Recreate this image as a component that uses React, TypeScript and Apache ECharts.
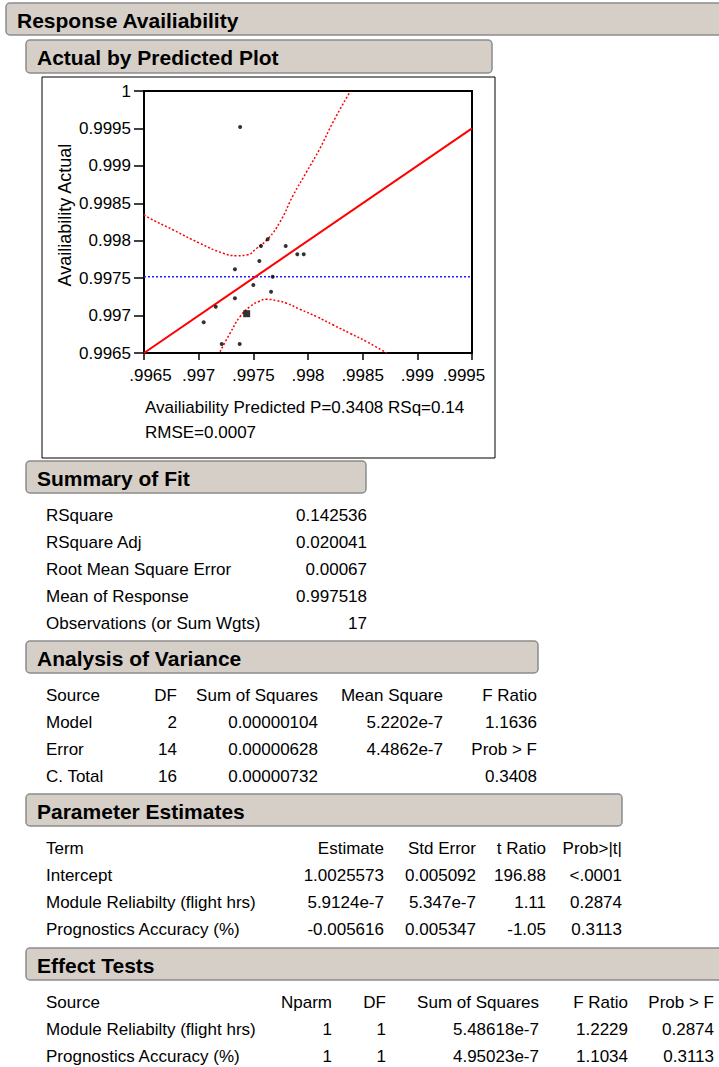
import React, { useEffect, useRef } from "react";
import * as echarts from "echarts";

// ---------- data ----------
const predicted = [0.997379, 0.997631, 0.99757, 0.997796, 0.997902, 0.997961, 0.997555, 0.997332, 0.997677, 0.9975, 0.997662, 0.997332, 0.997156, 0.997439, 0.997046, 0.997211, 0.997375];
const actual = [0.999518, 0.998019, 0.997929, 0.997929, 0.997819, 0.997819, 0.997729, 0.997618, 0.997519, 0.997408, 0.997319, 0.997231, 0.997119, 0.997025, 0.99691, 0.99662, 0.99662];
const bigPointIndex = 13;
const meanResponse = 0.997518;
const fitLineX = [0.9965, 0.9995];
const fitLineY = [0.9965, 0.9995];
const upperX = [0.9965, 0.996525, 0.996768, 0.997012, 0.997225, 0.997348, 0.997439, 0.997531, 0.997637, 0.997744, 0.997866, 0.997988, 0.99811, 0.998231, 0.998384];
const upperY = [0.99835, 0.998321, 0.998143, 0.997965, 0.997832, 0.9978, 0.997809, 0.997899, 0.998032, 0.99825, 0.998611, 0.998922, 0.999235, 0.99959, 0.99999];
const lowerX = [0.997195, 0.997287, 0.997378, 0.997469, 0.997545, 0.997622, 0.997714, 0.997805, 0.997927, 0.99808, 0.998231, 0.998384, 0.998537, 0.99872];
const lowerY = [0.996517, 0.996763, 0.996985, 0.997119, 0.997185, 0.997217, 0.997199, 0.997164, 0.997084, 0.996985, 0.996874, 0.996763, 0.996651, 0.9965];
const axisMin = 0.9965;
const yAxisMax = 1;
const xAxisMax = 0.9995;
const tickStep = 0.0005;

const reportTitle = "Response Availiability";
const plotTitle = "Actual by Predicted Plot";
const yAxisTitle = "Availiability Actual";
const xAxisTitleLines = ["Availiability Predicted P=0.3408 RSq=0.14", "RMSE=0.0007"];

const summaryTitle = "Summary of Fit";
const summaryLabels = ["RSquare", "RSquare Adj", "Root Mean Square Error", "Mean of Response", "Observations (or Sum Wgts)"];
const summaryValues = ["0.142536", "0.020041", "0.00067", "0.997518", "17"];

const anovaTitle = "Analysis of Variance";
const anovaHeaders = ["Source", "DF", "Sum of Squares", "Mean Square", "F Ratio"];
const anovaRows = [
  ["Model", "2", "0.00000104", "5.2202e-7", "1.1636"],
  ["Error", "14", "0.00000628", "4.4862e-7", "Prob > F"],
  ["C. Total", "16", "0.00000732", "", "0.3408"],
];

const paramTitle = "Parameter Estimates";
const paramHeaders = ["Term", "Estimate", "Std Error", "t Ratio", "Prob>|t|"];
const paramRows = [
  ["Intercept", "1.0025573", "0.005092", "196.88", "<.0001"],
  ["Module Reliabilty (flight hrs)", "5.9124e-7", "5.347e-7", "1.11", "0.2874"],
  ["Prognostics Accuracy (%)", "-0.005616", "0.005347", "-1.05", "0.3113"],
];

const effectTitle = "Effect Tests";
const effectHeaders = ["Source", "Nparm", "DF", "Sum of Squares", "F Ratio", "Prob > F"];
const effectRows = [
  ["Module Reliabilty (flight hrs)", "1", "1", "5.48618e-7", "1.2229", "0.2874"],
  ["Prognostics Accuracy (%)", "1", "1", "4.95023e-7", "1.1034", "0.3113"],
];

// ---------- layout ----------
const FONT = '"Liberation Sans", Arial, sans-serif';
const HEAD_FILL = "#d5cfc8";
const HEAD_STROKE = "#8c8c8c";

function header(x: number, y: number, w: number, h: number, text: string, size = 21): any[] {
  return [
    {
      type: "rect",
      shape: { x, y, width: w, height: h, r: 4 },
      style: { fill: HEAD_FILL, stroke: HEAD_STROKE, lineWidth: 1.5 },
    },
    {
      type: "text",
      x: x + 11,
      y: y + h / 2 + 1,
      style: { text, font: `bold ${size}px ${FONT}`, fill: "#000", textAlign: "left", textVerticalAlign: "middle" },
    },
  ];
}

function txt(x: number, y: number, text: string, align = "left"): any {
  return {
    type: "text",
    x,
    y,
    style: { text, font: `17px ${FONT}`, fill: "#000", textAlign: align, textVerticalAlign: "middle" },
  };
}

function table(headers: string[], rows: string[][], xs: number[], y0: number, dy: number): any[] {
  const out: any[] = [];
  const all = [headers, ...rows];
  all.forEach((r, ri) => {
    r.forEach((c, ci) => {
      if (!c) return;
      out.push(txt(xs[ci], y0 + ri * dy, c, ci === 0 ? "left" : "right"));
    });
  });
  return out;
}

export default function App() {
  const ref = useRef<HTMLDivElement>(null);
  useEffect(() => {
    if (!ref.current) return;
    const chart = echarts.init(ref.current, undefined, { renderer: "svg" });
    const pts = predicted.map((x, i) =>
      i === bigPointIndex
        ? { value: [x, actual[i]], symbol: "rect", symbolSize: 7 }
        : { value: [x, actual[i]] }
    );
    const fmtY = (v: number) => String(+v.toFixed(4));
    const fmtX = (v: number) => {
      const s = String(+v.toFixed(4)).replace(/^0/, "");
      if (Math.abs(v - axisMin) < 1e-9) return `{first|${s}}`;
      if (Math.abs(v - xAxisMax) < 1e-9) return `{last|${s}}`;
      return s;
    };
    const richBase = { fontSize: 17, fontFamily: FONT, color: "#000" };

    const graphics: any[] = [
      ...header(6, 3, 730, 32, reportTitle),
      ...header(26, 40, 466, 33, plotTitle),
      {
        type: "rect",
        shape: { x: 42, y: 77, width: 453, height: 381 },
        style: { fill: "none", stroke: "#000", lineWidth: 1 },
      },
      {
        type: "text",
        x: 65,
        y: 215,
        rotation: Math.PI / 2,
        style: { text: yAxisTitle, font: `18px ${FONT}`, fill: "#000", textAlign: "center", textVerticalAlign: "middle" },
      },
      txt(145, 407, xAxisTitleLines[0]),
      txt(145, 432, xAxisTitleLines[1]),
      ...header(26, 461, 340, 32, summaryTitle),
      ...summaryLabels.map((l, i) => txt(46, 515 + i * 27, l)),
      ...summaryValues.map((v, i) => txt(367, 515 + i * 27, v, "right")),
      ...header(26, 641, 512, 32, anovaTitle),
      ...table(anovaHeaders, anovaRows, [46, 177, 318, 443, 537], 695, 27),
      ...header(26, 794, 596, 32, paramTitle),
      ...table(paramHeaders, paramRows, [46, 384, 476, 546, 622], 848, 27),
      ...header(26, 948, 710, 32, effectTitle),
      ...table(effectHeaders, effectRows, [46, 332, 386, 539, 628, 714], 1002, 27),
    ];

    chart.setOption({
      animation: false,
      grid: {
        left: 144,
        top: 91,
        width: 328,
        height: 262,
        show: true,
        borderColor: "#000",
        borderWidth: 2,
        backgroundColor: "transparent",
      },
      xAxis: {
        type: "value",
        min: axisMin,
        max: xAxisMax,
        interval: tickStep,
        splitLine: { show: false },
        axisLine: { show: true, onZero: false, lineStyle: { color: "#000", width: 2 } },
        axisTick: { show: true, length: 7, lineStyle: { color: "#000", width: 1.5 } },
        axisLabel: {
          formatter: fmtX,
          fontSize: 17,
          fontFamily: FONT,
          color: "#000",
          margin: 14,
          rich: {
            first: { ...richBase, padding: [0, 0, 0, 13] },
            last: { ...richBase, padding: [0, 16, 0, 0] },
          },
        },
      },
      yAxis: {
        type: "value",
        min: axisMin,
        max: yAxisMax,
        interval: tickStep,
        splitLine: { show: false },
        axisLine: { show: true, onZero: false, lineStyle: { color: "#000", width: 2 } },
        axisTick: { show: true, length: 10, lineStyle: { color: "#000", width: 1.5 } },
        axisLabel: { formatter: fmtY, fontSize: 17, fontFamily: FONT, color: "#000", margin: 13 },
      },
      series: [
        {
          type: "line",
          data: upperX.map((x, i) => [x, upperY[i]]),
          smooth: true,
          showSymbol: false,
          clip: true,
          lineStyle: { color: "#ff0000", width: 1.5, type: [2, 2] },
          z: 2,
        },
        {
          type: "line",
          data: lowerX.map((x, i) => [x, lowerY[i]]),
          smooth: true,
          showSymbol: false,
          clip: true,
          lineStyle: { color: "#ff0000", width: 1.5, type: [2, 2] },
          z: 2,
        },
        {
          type: "line",
          data: [
            [fitLineX[0], meanResponse],
            [fitLineX[1], meanResponse],
          ],
          showSymbol: false,
          lineStyle: { color: "#2020ff", width: 1.5, type: [2, 2] },
          z: 2,
        },
        {
          type: "line",
          data: fitLineX.map((x, i) => [x, fitLineY[i]]),
          showSymbol: false,
          lineStyle: { color: "#ff0000", width: 2 },
          z: 3,
        },
        {
          type: "scatter",
          data: pts,
          symbol: "circle",
          symbolSize: 4,
          itemStyle: { color: "#000" },
          z: 4,
        },
      ],
      graphic: graphics,
    });
    return () => chart.dispose();
  }, []);
  return (
    <div
      ref={ref}
      style={{ position: "absolute", left: 0, top: 0, width: 719, height: 1067, background: "#fff" }}
    />
  );
}
